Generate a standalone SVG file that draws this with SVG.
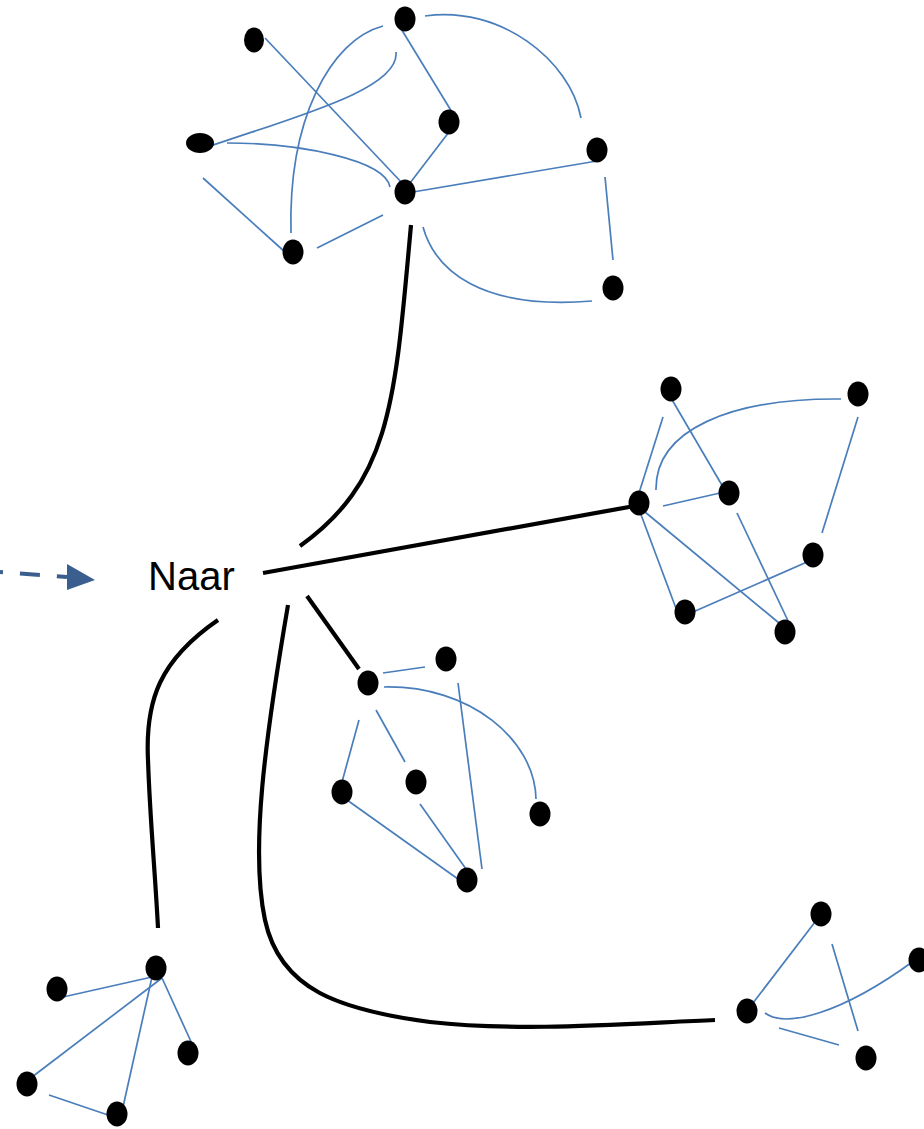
<svg xmlns="http://www.w3.org/2000/svg" width="924" height="1129" viewBox="0 0 924 1129">
<defs>
<style>
.n{fill:#000}
.b{fill:none;stroke:#4A7EBB;stroke-width:1.7}
.k{fill:none;stroke:#000;stroke-width:4.2}
.d{fill:none;stroke:#3A5F8F;stroke-width:4;stroke-dasharray:20 17;stroke-dashoffset:17}
.t{font-family:"Liberation Sans",Arial,sans-serif;font-size:40px;fill:#000}
</style>
</defs>
<rect width="924" height="1129" fill="#fff"/>
<g id="connectors">
<path class="k" d="M411,225 C 395,400 392,480 300,546"/>
<path class="k" d="M263,573 L640,505"/>
<path class="k" d="M307,596 L359,669"/>
<path class="k" d="M218,620 C 160,660 145,700 148,760 C 150,820 155,870 158,928"/>
<path class="k" d="M288,605 C 265,740 250,850 265,920 C 280,990 340,1010 430,1022 C 520,1032 620,1024 715,1020"/>
<path class="d" d="M0,572 L67,577"/>
<path d="M67,564 L95,580 L67,590 Z" fill="#3A5F8F"/>
<path class="b" d="M265,38 L403,184"/>
<path class="b" d="M383,26 C 330,40 288,120 291,233"/>
<path class="b" d="M396,52 C 400,90 290,118 205,148"/>
<path class="b" d="M227,143 C 300,143 385,160 390,187"/>
<path class="b" d="M203,178 L285,252"/>
<path class="b" d="M317,248 L383,215"/>
<path class="b" d="M400,27 L458,122"/>
<path class="b" d="M449,132 L410,183"/>
<path class="b" d="M413,192 L597,161"/>
<path class="b" d="M425,16 C 500,5 570,60 581,118"/>
<path class="b" d="M605,177 L613,260"/>
<path class="b" d="M423,227 C 435,270 480,310 592,301"/>
<path class="b" d="M663,417 L639,493"/>
<path class="b" d="M671,398 L723,487"/>
<path class="b" d="M656,490 C 655,430 730,398 841,399"/>
<path class="b" d="M663,506 L720,493"/>
<path class="b" d="M858,417 L822,533"/>
<path class="b" d="M640,512 L677,611"/>
<path class="b" d="M645,512 L779,623"/>
<path class="b" d="M737,513 L790,625"/>
<path class="b" d="M693,612 L807,562"/>
<path class="b" d="M383,673 L425,667"/>
<path class="b" d="M384,687 C 470,685 535,740 536,799"/>
<path class="b" d="M359,720 L342,782"/>
<path class="b" d="M376,710 L405,762"/>
<path class="b" d="M458,683 L482,869"/>
<path class="b" d="M347,800 L458,879"/>
<path class="b" d="M420,804 L466,869"/>
<path class="b" d="M63,997 L152,977"/>
<path class="b" d="M162,978 L32,1077"/>
<path class="b" d="M152,977 L123,1107"/>
<path class="b" d="M162,978 L193,1046"/>
<path class="b" d="M49,1095 L108,1115"/>
<path class="b" d="M753,1003 L815,922"/>
<path class="b" d="M832,944 L858,1031"/>
<path class="b" d="M765,1013 C 785,1028 840,1015 915,960"/>
<path class="b" d="M779,1028 L839,1045"/>
</g>
<g id="label-naar"><text class="t" x="148" y="590">Naar</text></g>
<g id="top-cluster">
<ellipse id="tA" class="n" cx="405" cy="19" rx="10.5" ry="12.5"/>
<ellipse id="tB" class="n" cx="254" cy="40" rx="10" ry="12.5"/>
<ellipse id="tC" class="n" cx="200" cy="143" rx="14" ry="10"/>
<ellipse id="tD" class="n" cx="405" cy="192" rx="10.5" ry="12.5"/>
<ellipse id="tE" class="n" cx="293" cy="252" rx="10.5" ry="12.5"/>
<ellipse id="tF" class="n" cx="449" cy="122" rx="10.5" ry="12.5"/>
<ellipse id="tG" class="n" cx="597" cy="150" rx="10.5" ry="12.5"/>
<ellipse id="tH" class="n" cx="613" cy="288" rx="10.5" ry="12.5"/>
</g>
<g id="right-cluster">
<ellipse id="r1" class="n" cx="671" cy="389" rx="10.5" ry="12.5"/>
<ellipse id="r2" class="n" cx="858" cy="394" rx="10.5" ry="12.5"/>
<ellipse id="r3" class="n" cx="639" cy="503" rx="10.5" ry="12.5"/>
<ellipse id="r4" class="n" cx="729" cy="493" rx="10.5" ry="12.5"/>
<ellipse id="r5" class="n" cx="813" cy="555" rx="10.5" ry="12.5"/>
<ellipse id="r6" class="n" cx="685" cy="612" rx="10.5" ry="12.5"/>
<ellipse id="r7" class="n" cx="785" cy="632" rx="10.5" ry="12.5"/>
</g>
<g id="middle-cluster">
<ellipse id="m1" class="n" cx="368" cy="683" rx="10.5" ry="12.5"/>
<ellipse id="m2" class="n" cx="446" cy="659" rx="10.5" ry="12.5"/>
<ellipse id="m3" class="n" cx="342" cy="792" rx="10.5" ry="12.5"/>
<ellipse id="m4" class="n" cx="416" cy="782" rx="10.5" ry="12.5"/>
<ellipse id="m5" class="n" cx="540" cy="814" rx="10.5" ry="12.5"/>
<ellipse id="m6" class="n" cx="467" cy="880" rx="10.5" ry="12.5"/>
</g>
<g id="bottom-left-cluster">
<ellipse id="l1" class="n" cx="156" cy="968" rx="10.5" ry="12.5"/>
<ellipse id="l2" class="n" cx="57" cy="989" rx="10.5" ry="12.5"/>
<ellipse id="l3" class="n" cx="188" cy="1053" rx="10.5" ry="12.5"/>
<ellipse id="l4" class="n" cx="27" cy="1084" rx="10.5" ry="12.5"/>
<ellipse id="l5" class="n" cx="117" cy="1114" rx="10.5" ry="12.5"/>
</g>
<g id="bottom-right-cluster">
<ellipse id="b1" class="n" cx="821" cy="914" rx="10.5" ry="12.5"/>
<ellipse id="b2" class="n" cx="919" cy="960" rx="10.5" ry="12.5"/>
<ellipse id="b3" class="n" cx="747" cy="1011" rx="10.5" ry="12.5"/>
<ellipse id="b4" class="n" cx="866" cy="1058" rx="10.5" ry="12.5"/>
</g>
</svg>
